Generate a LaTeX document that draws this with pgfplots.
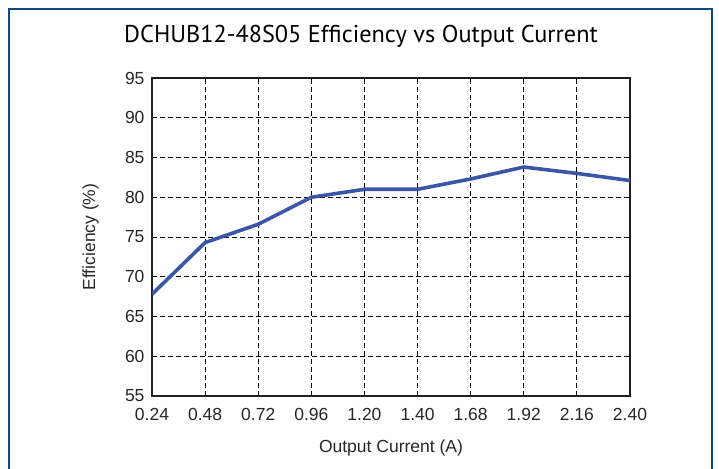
\documentclass[border=0pt]{standalone}
\usepackage{pgfplots}
\pgfplotsset{compat=1.18}
\usepackage{fontspec}
\setmainfont{Liberation Sans}
\newfontfamily\titlefont{PT Sans}
\definecolor{frameblue}{RGB}{12,74,128}
\definecolor{lineblue}{RGB}{58,86,166}
\definecolor{axisblack}{RGB}{35,31,32}
\pgfplotstableread{
idx eff
0 67.8
1 74.3
2 76.6
3 80.0
4 81.0
5 81.0
6 82.3
7 83.8
8 83.0
9 82.1
}\effdata
\begin{document}
\begin{tikzpicture}[x=1pt,y=1pt]
\useasboundingbox (0,0) rectangle (719,468);
\draw[frameblue, line width=2.2pt] (9,-20) -- (9,459) -- (712,459) -- (712,-20);
\node[anchor=base, font=\titlefont\fontsize{24.3}{28}\selectfont] at (361,425) {DCHUB12-48S05 Efficiency vs Output Current};
\begin{axis}[
  at={(152pt,72pt)}, anchor=south west,
  scale only axis, width=478pt, height=318pt,
  xmin=0, xmax=9, ymin=55, ymax=95,
  xtick={0,...,9},
  xticklabels={0.24,0.48,0.72,0.96,1.20,1.40,1.68,1.92,2.16,2.40},
  ytick={55,60,...,95},
  major tick length=0pt,
  grid=major,
  major grid style={black, line width=0.9pt, dash pattern=on 4.5pt off 3.5pt},
  axis line style={axisblack, line width=1.6pt},
  tick label style={font=\fontsize{17.5}{20}\selectfont, text=black!85},
  /pgf/number format/assume math mode=true,
  xticklabel style={yshift=-9pt},
  yticklabel style={xshift=-4pt},
  xlabel={Output Current (A)},
  ylabel={Efficiency (\%)},
  label style={font=\fontsize{17.5}{20}\selectfont, text=black!85},
  xlabel style={at={(axis description cs:0.5,0)}, anchor=base, yshift=-56pt},
  ylabel style={at={(axis description cs:0,0.5)}, anchor=base, yshift=57pt},
]
\addplot[lineblue, line width=3.6pt, line join=round] table[x=idx, y=eff] {\effdata};
\end{axis}
\end{tikzpicture}
\end{document}
